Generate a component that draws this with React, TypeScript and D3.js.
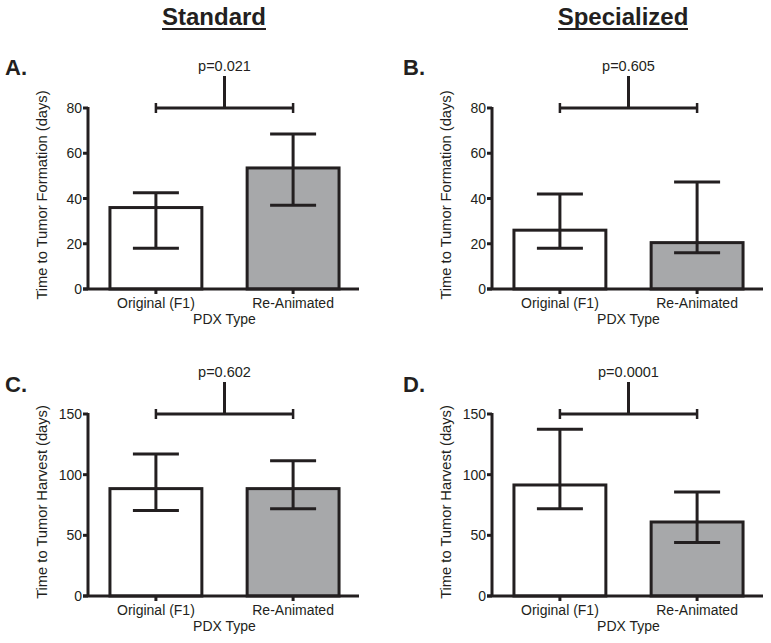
import React from "react";
import * as d3 from "d3";

const categories = ["Original (F1)", "Re-Animated"];
const columnTitles = ["Standard", "Specialized"];
const panelLetters = ["A.", "B.", "C.", "D."];
const pValues = ["p=0.021", "p=0.605", "p=0.602", "p=0.0001"];
const yLabels = ["Time to Tumor Formation (days)", "Time to Tumor Formation (days)", "Time to Tumor Harvest (days)", "Time to Tumor Harvest (days)"];
const yMaxes = [80, 80, 150, 150];
const yTicksA = [0, 20, 40, 60, 80];
const yTicksC = [0, 50, 100, 150];
const means = [[36, 53.5], [26, 20.5], [88.5, 88.5], [91.5, 61]];
const upper = [[42.5, 68.5], [42, 47.3], [117, 111.5], [137.5, 85.7]];
const lower = [[18, 37], [18, 16], [70.5, 72], [72, 44]];
const fills = ["#ffffff", "#a7a8aa"];

const INK = "#231f20";
const FONT = "'Liberation Sans', Arial, Helvetica, sans-serif";

function Panel({ i }: { i: number }) {
  const col = i % 2;
  const row = Math.floor(i / 2);
  const axisX = 88 + col * 404;
  const y0 = 289 + row * 307;
  const yTop = 108 + row * 306;
  const x = d3.scaleBand<string>().domain(categories).range([axisX, axisX + 273]).paddingInner(0.33).paddingOuter(0.16);
  const y = d3.scaleLinear().domain([0, yMaxes[i]]).range([y0, yTop]);
  const ticks = row === 0 ? yTicksA : yTicksC;
  const bw = x.bandwidth();
  const cx = (c: string) => (x(c) as number) + bw / 2;
  const c1 = cx(categories[0]);
  const c2 = cx(categories[1]);
  const mid = (c1 + c2) / 2;
  const by = y(yMaxes[i]);
  const labelY = row === 0 ? 75 : 392;
  const capHalf = 23;
  return (
    <g>
      <text x={col === 0 ? 5 : 403} y={labelY} fontSize={22} fontWeight="bold" fill={INK} fontFamily={FONT}>{panelLetters[i]}</text>
      {categories.map((c, k) => (
        <rect key={c} x={x(c)} y={y(means[i][k])} width={bw} height={y0 - y(means[i][k])} fill={fills[k]} stroke={INK} strokeWidth={3} />
      ))}
      {categories.map((c, k) => (
        <g key={"e" + c} stroke={INK} strokeWidth={3}>
          <line x1={cx(c)} x2={cx(c)} y1={y(upper[i][k])} y2={y(lower[i][k])} />
          <line x1={cx(c) - capHalf} x2={cx(c) + capHalf} y1={y(upper[i][k])} y2={y(upper[i][k])} />
          <line x1={cx(c) - capHalf} x2={cx(c) + capHalf} y1={y(lower[i][k])} y2={y(lower[i][k])} />
        </g>
      ))}
      <line x1={axisX} x2={axisX} y1={yTop - 1} y2={y0} stroke={INK} strokeWidth={3} />
      <line x1={axisX - 5} x2={axisX + 271} y1={y0} y2={y0} stroke={INK} strokeWidth={3} />
      {ticks.map((t) => (
        <g key={t}>
          <line x1={axisX - 5} x2={axisX} y1={y(t)} y2={y(t)} stroke={INK} strokeWidth={3} />
          <text x={axisX - 6} y={y(t) + 5} textAnchor="end" fontSize={14} fill={INK} fontFamily={FONT}>{t}</text>
        </g>
      ))}
      {categories.map((c) => (
        <g key={"t" + c}>
          <line x1={cx(c)} x2={cx(c)} y1={y0} y2={y0 + 5} stroke={INK} strokeWidth={3} />
          <text x={cx(c)} y={y0 + 19} textAnchor="middle" fontSize={14} fill={INK} fontFamily={FONT}>{c}</text>
        </g>
      ))}
      <text x={mid} y={y0 + 35} textAnchor="middle" fontSize={14} fill={INK} fontFamily={FONT}>PDX Type</text>
      <text transform={`translate(${axisX - 41},${y0 - 94}) rotate(-90)`} textAnchor="middle" fontSize={14.7} fill={INK} fontFamily={FONT}>{yLabels[i]}</text>
      <g stroke={INK} strokeWidth={3}>
        <line x1={c1} x2={c2} y1={by} y2={by} />
        <line x1={c1} x2={c1} y1={by - 5} y2={by + 5} strokeWidth={2.5} />
        <line x1={c2} x2={c2} y1={by - 5} y2={by + 5} strokeWidth={2.5} />
        <line x1={mid} x2={mid} y1={by} y2={by - 32} />
      </g>
      <text x={mid} y={by - 37} textAnchor="middle" fontSize={14.5} fill={INK} fontFamily={FONT}>{pValues[i]}</text>
    </g>
  );
}

export default function App() {
  return (
    <div style={{ position: "absolute", left: 0, top: 0 }}>
      <svg width={771} height={643} style={{ display: "block", background: "#fff" }}>
        <rect width={771} height={643} fill="#fff" />
        {columnTitles.map((t, k) => (
          <g key={t}>
            <text x={k === 0 ? 214 : 623} y={25} textAnchor="middle" fontSize={24} fontWeight="bold" fill={INK} fontFamily={FONT}>{t}</text>
          </g>
        ))}
        <line x1={162} x2={266} y1={29} y2={29} stroke={INK} strokeWidth={2} />
        <line x1={558} x2={688} y1={29} y2={29} stroke={INK} strokeWidth={2} />
        {[0, 1, 2, 3].map((i) => (
          <Panel key={i} i={i} />
        ))}
      </svg>
    </div>
  );
}
